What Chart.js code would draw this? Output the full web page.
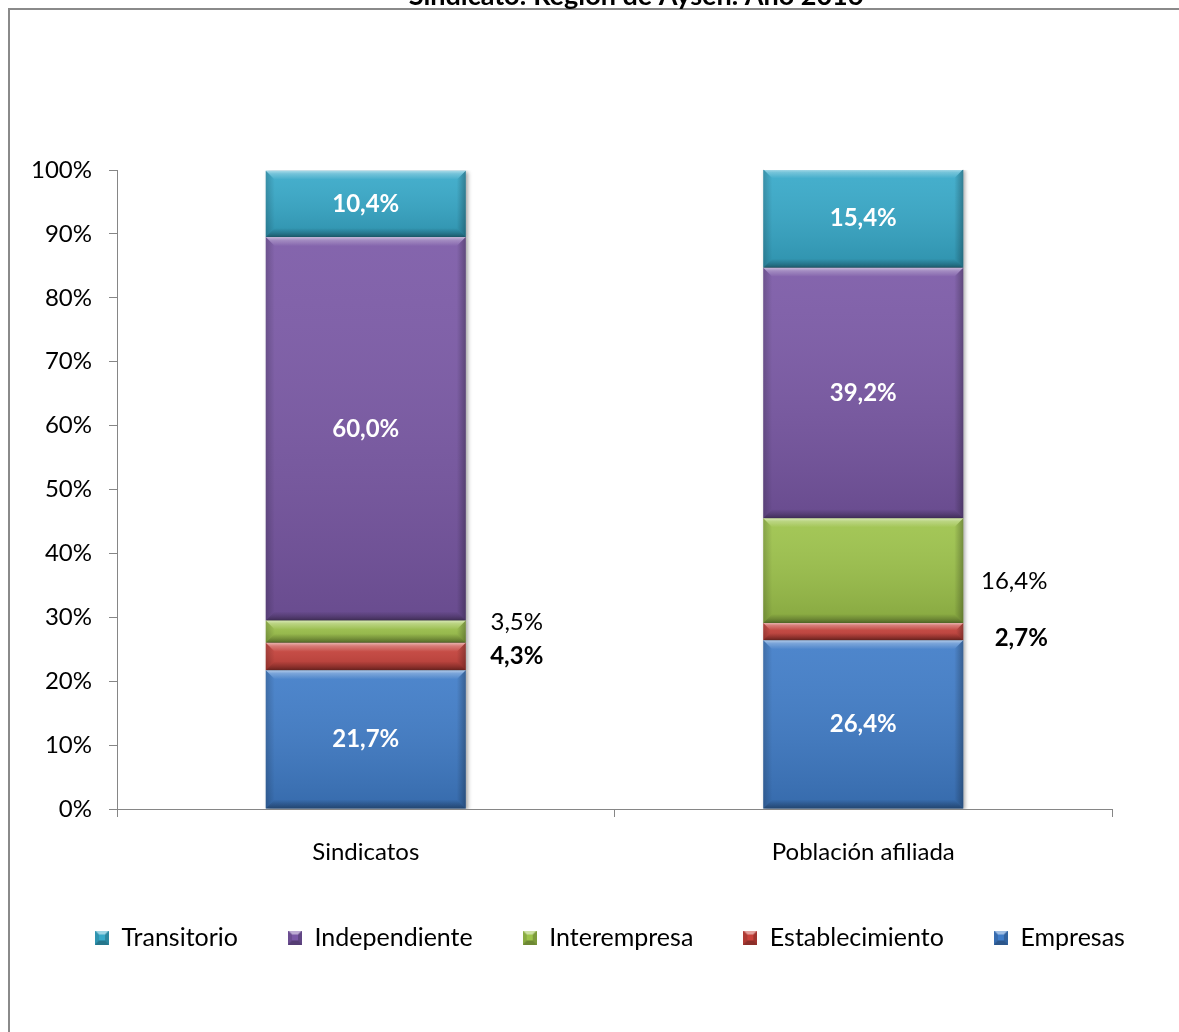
<!DOCTYPE html>
<html><head><meta charset="utf-8">
<script src="https://cdn.jsdelivr.net/npm/chart.js@4"></script>
<style>html,body{margin:0;padding:0;background:#fff}canvas{display:block}</style>
</head><body>
<canvas id="c" width="1179" height="1032"></canvas>
<script>
// ---- data ----
const title = 'Sindicato: Región de Aysén. Año 2016';
const categories = ['Sindicatos', 'Población afiliada'];
const seriesNames = ['Empresas', 'Establecimiento', 'Interempresa', 'Independiente', 'Transitorio'];
const empresas = [21.7, 26.4];
const establecimiento = [4.3, 2.7];
const interempresa = [3.5, 16.4];
const independiente = [60.0, 39.2];
const transitorio = [10.4, 15.4];
const yMin = 0, yMax = 100, yStep = 10;

// ---- styles ----
const seriesColors = ['#3F7CC8', '#C8423B', '#9DC34A', '#7A58A6', '#36A9C9'];
const labelModes = [
  {mode: 'inside'},
  {mode: 'outside', bold: true, dx: [51, 58], dy: [0, 7]},
  {mode: 'outside', bold: false, dx: [51, 51], dy: [-9, 11]},
  {mode: 'inside'},
  {mode: 'inside'}
];
const FONT = 'Lato, "Open Sans", sans-serif';
const FS = 24;
const AXIS = '#868686';
Chart.defaults.font.family = FONT;
Chart.defaults.color = '#000';

const seriesValues = [empresas, establecimiento, interempresa, independiente, transitorio];
const fmt = v => v.toFixed(1).replace('.', ',') + '%';

// bevelled legend icons
function makeIcon(color) {
  const s = 14, b = 4;
  const c = document.createElement('canvas');
  c.width = s; c.height = s;
  const x = c.getContext('2d');
  x.fillStyle = color; x.fillRect(0, 0, s, s);
  const poly = (pts, fill) => { x.beginPath(); x.moveTo(pts[0][0], pts[0][1]); pts.slice(1).forEach(p => x.lineTo(p[0], p[1])); x.closePath(); x.fillStyle = fill; x.fill(); };
  poly([[0,0],[s,0],[s-b,b],[b,b]], 'rgba(255,255,255,0.5)');
  poly([[0,s],[s,s],[s-b,s-b],[b,s-b]], 'rgba(0,0,0,0.3)');
  poly([[0,0],[b,b],[b,s-b],[0,s]], 'rgba(0,0,0,0.12)');
  poly([[s,0],[s-b,b],[s-b,s-b],[s,s]], 'rgba(0,0,0,0.2)');
  return c;
}
const icons = seriesColors.map(makeIcon);

const frame = {
  id: 'frame',
  beforeDraw(chart) {
    const ctx = chart.ctx;
    ctx.save();
    ctx.fillStyle = '#fff';
    ctx.fillRect(0, 0, chart.width, chart.height);
    ctx.strokeStyle = '#8a8a8a';
    ctx.lineWidth = 2;
    ctx.strokeRect(9, 9, chart.width + 50, chart.height + 50);
    ctx.fillStyle = '#000';
    ctx.font = 'bold 27px ' + FONT;
    ctx.textAlign = 'center';
    ctx.textBaseline = 'alphabetic';
    ctx.fillText(title, 636, 5);
    ctx.restore();
  }
};

const shadow = {
  id: 'shadow',
  beforeDatasetDraw(chart) {
    const ctx = chart.ctx;
    ctx.save();
    ctx.shadowColor = 'rgba(0,0,0,0.35)';
    ctx.shadowBlur = 4;
    ctx.shadowOffsetX = 2;
    ctx.shadowOffsetY = 1;
  },
  afterDatasetDraw(chart) { chart.ctx.restore(); }
};

const bevel = {
  id: 'bevel',
  afterDatasetsDraw(chart) {
    const ctx = chart.ctx;
    ctx.save();
    chart.data.datasets.forEach((ds, di) => {
      const meta = chart.getDatasetMeta(di);
      meta.data.forEach((el) => {
        const {x, y, base, width} = el.getProps(['x', 'y', 'base', 'width'], true);
        const L = x - width / 2, R = x + width / 2, T = Math.min(y, base), B = Math.max(y, base);
        const h = B - T;
        if (h <= 0) return;
        const b = Math.min(9, h / 2.4);
        let g = ctx.createLinearGradient(0, T, 0, B);
        g.addColorStop(0, 'rgba(255,255,255,0.08)');
        g.addColorStop(1, 'rgba(0,0,0,0.14)');
        ctx.fillStyle = g;
        ctx.fillRect(L, T, width, h);
        g = ctx.createLinearGradient(0, T, 0, T + b);
        g.addColorStop(0, 'rgba(255,255,255,0.55)');
        g.addColorStop(0.35, 'rgba(255,255,255,0.25)');
        g.addColorStop(1, 'rgba(255,255,255,0.0)');
        ctx.fillStyle = g;
        ctx.beginPath();
        ctx.moveTo(L, T); ctx.lineTo(R, T); ctx.lineTo(R - b, T + b); ctx.lineTo(L + b, T + b); ctx.closePath();
        ctx.fill();
        g = ctx.createLinearGradient(0, B - b, 0, B);
        g.addColorStop(0, 'rgba(0,0,0,0)');
        g.addColorStop(1, 'rgba(0,0,0,0.35)');
        ctx.fillStyle = g;
        ctx.beginPath();
        ctx.moveTo(L, B); ctx.lineTo(R, B); ctx.lineTo(R - b, B - b); ctx.lineTo(L + b, B - b); ctx.closePath();
        ctx.fill();
        g = ctx.createLinearGradient(L, 0, L + b, 0);
        g.addColorStop(0, 'rgba(0,0,0,0.18)');
        g.addColorStop(1, 'rgba(0,0,0,0)');
        ctx.fillStyle = g;
        ctx.beginPath();
        ctx.moveTo(L, T); ctx.lineTo(L + b, T + b); ctx.lineTo(L + b, B - b); ctx.lineTo(L, B); ctx.closePath();
        ctx.fill();
        g = ctx.createLinearGradient(R - b, 0, R, 0);
        g.addColorStop(0, 'rgba(0,0,0,0)');
        g.addColorStop(1, 'rgba(0,0,0,0.28)');
        ctx.fillStyle = g;
        ctx.beginPath();
        ctx.moveTo(R, T); ctx.lineTo(R - b, T + b); ctx.lineTo(R - b, B - b); ctx.lineTo(R, B); ctx.closePath();
        ctx.fill();
      });
    });
    ctx.restore();
  }
};

const valueLabels = {
  id: 'valueLabels',
  afterDatasetsDraw(chart) {
    const ctx = chart.ctx;
    ctx.save();
    ctx.textBaseline = 'middle';
    chart.data.datasets.forEach((ds, di) => {
      const meta = chart.getDatasetMeta(di);
      const st = labelModes[di];
      meta.data.forEach((el, i) => {
        const {x, y, base, width} = el.getProps(['x', 'y', 'base', 'width'], true);
        const cy = (y + base) / 2;
        const txt = fmt(ds.data[i]);
        ctx.textAlign = 'center';
        if (st.mode === 'inside') {
          ctx.fillStyle = '#fff';
          ctx.font = 'bold ' + FS + 'px ' + FONT;
          ctx.fillText(txt, x, cy);
        } else {
          ctx.fillStyle = '#000';
          ctx.font = (st.bold ? 'bold ' : '') + FS + 'px ' + FONT;
          ctx.fillText(txt, x + width / 2 + st.dx[i], cy + st.dy[i]);
        }
      });
    });
    ctx.restore();
  }
};

new Chart(document.getElementById('c'), {
  type: 'bar',
  data: {
    labels: categories,
    datasets: seriesNames.map((name, k) => ({
      label: name,
      data: seriesValues[k],
      backgroundColor: seriesColors[k],
      borderWidth: 0,
      categoryPercentage: 1,
      barPercentage: 0.402
    }))
  },
  options: {
    responsive: false,
    devicePixelRatio: 1,
    animation: false,
    // negative right padding centres the legend like the original (whose frame extends past the right edge)
    layout: {padding: {top: 170, left: 0, right: -41, bottom: 72}},
    plugins: {
      legend: {
        position: 'bottom',
        reverse: true,
        labels: {
          usePointStyle: true, boxWidth: 14, boxHeight: 14, padding: 50,
          font: {size: 25}, color: '#000',
          generateLabels: chart => {
            const items = Chart.defaults.plugins.legend.labels.generateLabels(chart);
            items.forEach(it => { it.pointStyle = icons[it.datasetIndex]; });
            return items;
          }
        }
      },
      tooltip: {enabled: false},
      title: {display: false}
    },
    scales: {
      x: {
        stacked: true,
        grid: {display: true, drawOnChartArea: false, drawTicks: true, tickLength: 8, color: AXIS, offset: true},
        border: {display: true, color: AXIS, width: 1},
        ticks: {font: {size: FS}, color: '#000', padding: 21},
        afterFit: s => { s.height = 66; }
      },
      y: {
        stacked: true,
        min: yMin, max: yMax,
        grid: {display: true, drawOnChartArea: false, drawTicks: true, tickLength: 8, color: AXIS},
        border: {display: true, color: AXIS, width: 1},
        ticks: {stepSize: yStep, font: {size: FS}, color: '#000', padding: 17, callback: v => v + '%'},
        afterFit: s => { s.width = 117; }
      },
      yRight: {
        type: 'linear',
        position: 'right',
        display: true,
        grid: {display: false},
        border: {display: false},
        ticks: {display: false},
        afterFit: s => { s.width = 108; }
      }
    }
  },
  plugins: [frame, shadow, bevel, valueLabels]
});
</script>
</body></html>
